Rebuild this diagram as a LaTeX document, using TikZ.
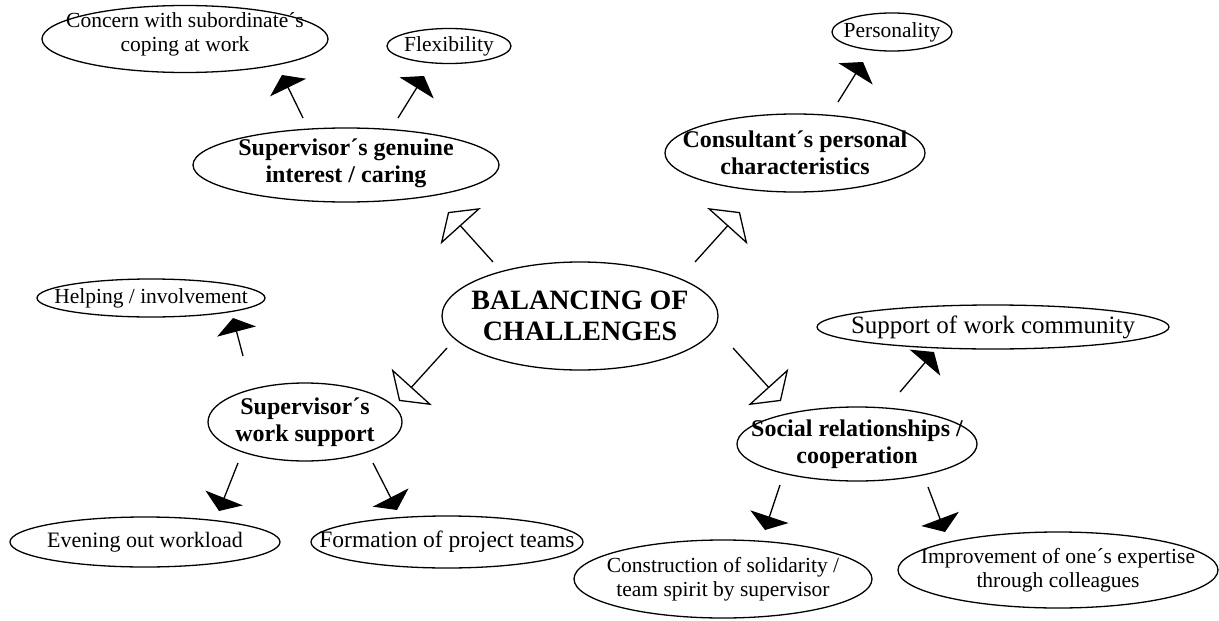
\documentclass[tikz,border=0pt]{standalone}
\usepackage{fontspec}
\setmainfont{Liberation Serif}
\usetikzlibrary{shapes.geometric,arrows.meta}
\begin{document}
\begin{tikzpicture}[x=1pt,y=-1pt,
  ell/.style={draw,ellipse,line width=1.3pt,inner sep=0pt},
  small/.style={align=center,font=\fontsize{21.5}{24}\selectfont},
  mid/.style={align=center,font=\bfseries\fontsize{24}{27}\selectfont},
  big/.style={align=center,font=\bfseries\fontsize{28}{31}\selectfont},
  blk/.style={line width=1.3pt,-{Triangle[length=14pt,width=40pt]}},
  opn/.style={line width=1.3pt,-{Triangle[open,length=19pt,width=54pt,line width=1.3pt]}}
]
\useasboundingbox (0,0) rectangle (1219,621);
\node[ell,minimum width=286pt,minimum height=67pt] (concern) at (185,39) {};
\node[small] (concernT) at ([yshift=5pt]concern.center) {Concern with subordinate\textasciiacute s\\coping at work};
\node[ell,minimum width=124pt,minimum height=35pt] (flex) at (449,46) {};
\node[small] (flexT) at (flex) {Flexibility};
\node[ell,minimum width=120pt,minimum height=38pt] (pers) at (892,32) {};
\node[small] (persT) at (pers) {Personality};
\node[ell,minimum width=306pt,minimum height=74pt] (genuine) at (346,165) {};
\node[mid] (genuineT) at ([yshift=2pt]genuine.center) {Supervisor\textasciiacute s genuine\\interest / caring};
\node[ell,minimum width=260pt,minimum height=78pt] (consult) at (795,153) {};
\node[mid] (consultT) at (consult) {Consultant\textasciiacute s personal\\characteristics};
\node[ell,minimum width=276pt,minimum height=108pt] (bal) at (580,316) {};
\node[big] (balT) at (bal) {BALANCING OF\\CHALLENGES};
\node[ell,minimum width=228pt,minimum height=38pt] (help) at (151,298) {};
\node[small] (helpT) at (help) {Helping / involvement};
\node[ell,minimum width=352pt,minimum height=44pt] (supp) at (993,327) {};
\node[small,font=\fontsize{25}{28}\selectfont] (suppT) at (supp) {Support of work community};
\node[ell,minimum width=194pt,minimum height=78pt] (work) at (305,422) {};
\node[mid] (workT) at (work) {Supervisor\textasciiacute s\\work support};
\node[ell,minimum width=240pt,minimum height=74pt] (social) at (857,444) {};
\node[mid] (socialT) at (social) {Social relationships /\\cooperation};
\node[ell,minimum width=270pt,minimum height=50pt] (even) at (145,542) {};
\node[small,font=\fontsize{22}{25}\selectfont] (evenT) at (even) {Evening out workload};
\node[ell,minimum width=272pt,minimum height=52pt] (form) at (447,542) {};
\node[small,font=\fontsize{23.5}{26}\selectfont] (formT) at (form) {Formation of project teams};
\node[ell,minimum width=298pt,minimum height=78pt] (constr) at (723,579) {};
\node[small] (constrT) at (constr) {Construction of solidarity /\\team spirit by supervisor};
\node[ell,minimum width=320pt,minimum height=76pt] (impr) at (1058,570) {};
\node[small] (imprT) at (impr) {Improvement of one\textasciiacute s expertise\\through colleagues};
% arrow endpoints
\coordinate (a1) at (303,118); \coordinate (b1) at (282,75);
\coordinate (a2) at (398,118); \coordinate (b2) at (424,76);
\coordinate (a3) at (838,102); \coordinate (b3) at (863,62);
\coordinate (a4) at (243,356); \coordinate (b4) at (233,318);
\coordinate (a5) at (900,392); \coordinate (b5) at (934,352);
\coordinate (a6) at (238,463); \coordinate (b6) at (219,511);
\coordinate (a7) at (373,463); \coordinate (b7) at (397,510);
\coordinate (a8) at (780,485); \coordinate (b8) at (765,530);
\coordinate (a9) at (928,487); \coordinate (b9) at (945,532);
\coordinate (c1) at (493,262); \coordinate (d1) at (448,212);
\coordinate (c2) at (695,262); \coordinate (d2) at (740,212);
\coordinate (c3) at (447,348); \coordinate (d3) at (399,401);
\coordinate (c4) at (733,348); \coordinate (d4) at (781,401);
\draw[blk] (a1) -- (b1);
\draw[blk] (a2) -- (b2);
\draw[blk] (a3) -- (b3);
\draw[blk] (a4) -- (b4);
\draw[blk] (a5) -- (b5);
\draw[blk] (a6) -- (b6);
\draw[blk] (a7) -- (b7);
\draw[blk] (a8) -- (b8);
\draw[blk] (a9) -- (b9);
\draw[opn] (c1) -- (d1);
\draw[opn] (c2) -- (d2);
\draw[opn] (c3) -- (d3);
\draw[opn] (c4) -- (d4);
\end{tikzpicture}
\end{document}
